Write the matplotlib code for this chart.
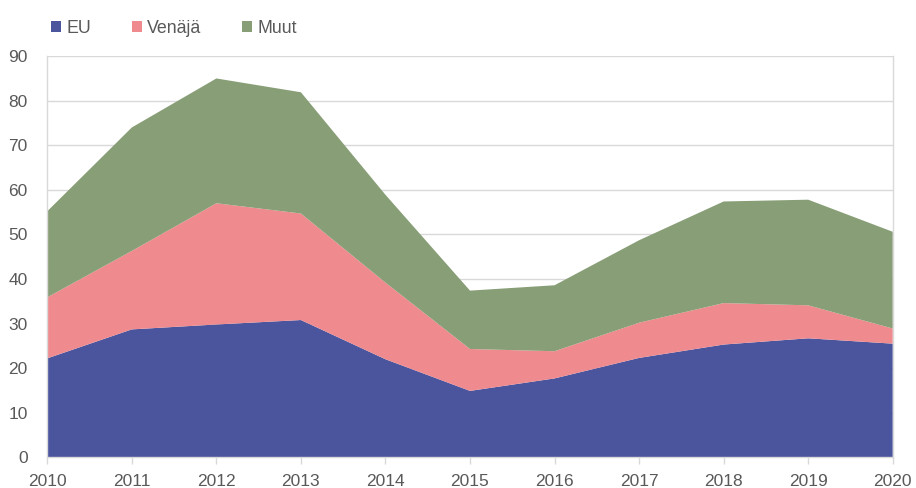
import matplotlib.pyplot as plt
import numpy as np

# --- Data ---
years = [2010, 2011, 2012, 2013, 2014, 2015, 2016, 2017, 2018, 2019, 2020]
eu = [22.2, 28.7, 29.8, 30.8, 22.0, 14.9, 17.7, 22.3, 25.3, 26.7, 25.5]
# cumulative tops
eu_ven_top = [35.9, 46.3, 57.0, 54.7, 39.2, 24.3, 23.8, 30.2, 34.6, 34.1, 28.9]
total_top = [55.2, 74.0, 85.0, 81.9, 58.9, 37.4, 38.6, 48.7, 57.4, 57.8, 50.6]

venaja = [round(c - e, 1) for c, e in zip(eu_ven_top, eu)]
muut = [round(t - c, 1) for t, c in zip(total_top, eu_ven_top)]

labels = ["EU", "Venäjä", "Muut"]
colors = ["#4B559E", "#EF8A8E", "#889E76"]
TEXT = "#595959"
GRID = "#D9D9D9"

plt.rcParams['font.family'] = ['Liberation Sans', 'DejaVu Sans']

fig = plt.figure(figsize=(9.16, 4.88), dpi=100)
ax = fig.add_axes([0.0516, 0.0629, 0.923, 0.822])

ax.stackplot(years, eu, venaja, muut, colors=colors, labels=labels,
             linewidth=0, zorder=2)

ax.set_xlim(2010, 2020)
ax.set_ylim(0, 90)
ax.set_xticks(years)
ax.set_yticks(np.arange(0, 91, 10))
ax.grid(axis='y', color=GRID, linewidth=1, zorder=0)

ax.spines['top'].set_visible(False)
for side in ['left', 'right', 'bottom']:
    ax.spines[side].set_color(GRID)
    ax.spines[side].set_linewidth(1)
    ax.spines[side].set_zorder(3)

ax.tick_params(axis='x', colors=TEXT, labelsize=12.5, length=5, width=1,
               color=GRID, pad=7, direction='out')
ax.tick_params(axis='y', colors=TEXT, labelsize=12.5, length=0, pad=14)
for lbl in ax.get_yticklabels() + ax.get_xticklabels():
    lbl.set_color(TEXT)

leg = fig.legend(loc='center left', bbox_to_anchor=(0.0562, 0.942), ncol=3,
                 frameon=False, fontsize=12.8, handlelength=0.55,
                 handleheight=0.55, handletextpad=0.3, columnspacing=2.3,
                 borderpad=0, borderaxespad=0, labelcolor=TEXT)

fig.savefig("out.png", dpi=100)
